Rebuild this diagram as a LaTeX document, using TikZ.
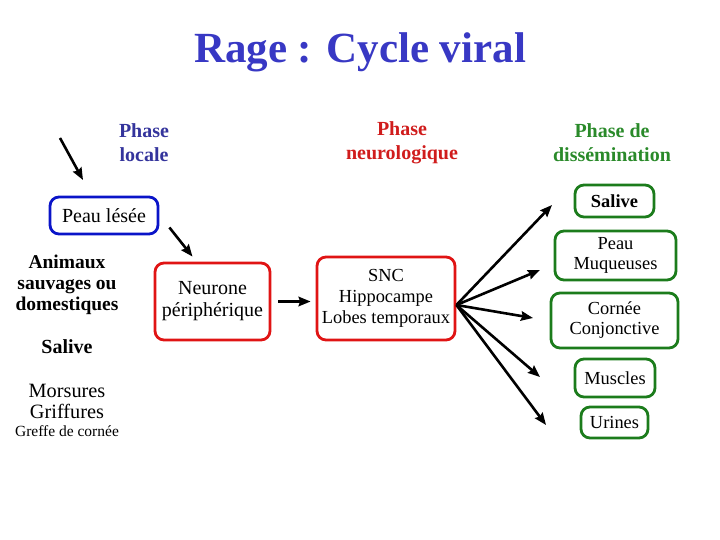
\documentclass[tikz,border=0pt]{standalone}
\usepackage{fontspec}
\setmainfont{Liberation Serif}
\usepackage{xcolor}
\definecolor{colorTitle}{HTML}{3838C4}
\definecolor{colorLocal}{HTML}{34349C}
\definecolor{colorNeuro}{HTML}{D01C1C}
\definecolor{colorDissem}{HTML}{2A8A2A}
\definecolor{colorBlueBox}{HTML}{0A14C8}
\definecolor{colorRedBox}{HTML}{E01414}
\definecolor{colorGreenBox}{HTML}{1C7C1C}
\usetikzlibrary{arrows, arrows.meta, positioning}
\tikzset{
  txt/.style={align=center, inner sep=0pt, font=\fontsize{20}{22}\selectfont},
  phase/.style={txt, font=\fontsize{20}{24}\selectfont\bfseries},
  box/.style={txt, draw, rounded corners=9pt, line width=2.8pt},
  boxBlue/.style={box, draw=colorBlueBox},
  boxRed/.style={box, draw=colorRedBox},
  boxGreen/.style={box, draw=colorGreenBox, font=\fontsize{18.4}{20}\selectfont},
  flow/.style={->, line width=2.6pt}
}

\begin{document}
\begin{tikzpicture}[x=1pt, y=-1pt, >={Stealth[length=12pt, width=9.5pt, inset=1.5pt]}]
\useasboundingbox (0,0) rectangle (720,540);
% title
\node[colorTitle, font=\fontsize{43}{46}\selectfont\bfseries] (title) at (360,52) {Rage : Cycle viral};
% phases
\node[phase, colorLocal] (pLocal) at (144,143) {Phase\\locale};
\node[phase, colorNeuro] (pNeuro) at (402,143) {Phase\\neurologique};
\node[phase, colorDissem] (pDissem) at (612,143) {Phase de\\dissémination};
% local phase
\node[boxBlue, minimum width=108, minimum height=37] (peau) at (104,215.5) {Peau lésée};
\node[txt, font=\fontsize{19.5}{21}\selectfont\bfseries] (animaux) at (67,284.5) {Animaux\\sauvages ou\\domestiques};
\node[txt, font=\fontsize{20}{21}\selectfont\bfseries] (salive) at (67,347) {Salive};
\node[txt, font=\fontsize{20.3}{21}\selectfont] (morsures) at (67,401) {Morsures\\Griffures};
\node[txt, font=\fontsize{15.5}{17}\selectfont] (greffe) at (67,431) {Greffe de cornée};
% neurological phase
\node[boxRed, minimum width=115, minimum height=77] (neurone) at (212.5,301.5) {Neurone\\périphérique};
\node[boxRed, minimum width=138, minimum height=83, font=\fontsize{18.4}{21}\selectfont] (snc) at (386,298.5) {SNC\\Hippocampe\\Lobes temporaux};
% dissemination phase
\node[boxGreen, minimum width=79, minimum height=32, font=\fontsize{18.4}{20}\selectfont\bfseries] (dSalive) at (614.5,201) {Salive};
\node[boxGreen, minimum width=121, minimum height=49] (dPeau) at (615.5,255.5) {Peau\\Muqueuses};
\node[boxGreen, minimum width=127, minimum height=55] (dCornee) at (614.5,320.5) {Cornée\\Conjonctive};
\node[boxGreen, minimum width=80, minimum height=38] (dMuscles) at (615,378) {Muscles};
\node[boxGreen, minimum width=67, minimum height=31] (dUrines) at (614.5,422.5) {Urines};
% arrow ends
\coordinate (inStart) at (60,138);
\coordinate (inEnd) at (83,180);
\coordinate (src) at ([yshift=-6.5pt]snc.east);
\coordinate (toSalive) at (552,205);
\coordinate (toPeau) at (540,270);
\coordinate (toCornee) at (533,318);
\coordinate (toMuscles) at (540,377);
\coordinate (toUrines) at (546,425);
% arrows
\draw[flow] (inStart) -- (inEnd);
\draw[flow] ([shift={(10,12)}]peau.east) -- ([shift={(-20,-5)}]neurone.north);
\draw[flow, shorten >=5pt] ([xshift=7pt]neurone.east) -- (snc.west |- neurone.east);
\foreach \t in {toSalive, toPeau, toCornee, toMuscles, toUrines}
  \draw[flow] (src) -- (\t);
\end{tikzpicture}
\end{document}
